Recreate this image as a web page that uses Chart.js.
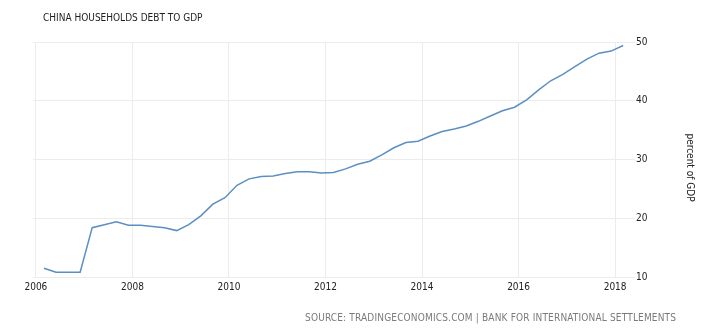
<!DOCTYPE html>
<html>
<head>
<meta charset="utf-8">
<title>China Households Debt to GDP</title>
<script src="https://cdn.jsdelivr.net/npm/chart.js@4.4.1/dist/chart.umd.min.js"></script>
<style>
  html, body { margin: 0; padding: 0; background: #fff; }
  #wrap { position: relative; width: 720px; height: 335px; }
</style>
</head>
<body>
<div id="wrap"><canvas id="debtChart" width="720" height="335"></canvas></div>
<script>
const chartTitle = "CHINA HOUSEHOLDS DEBT TO GDP";
const sourceText = "SOURCE: TRADINGECONOMICS.COM | BANK FOR INTERNATIONAL SETTLEMENTS";
const unitLabel = "percent of GDP";

// quarter end dates, YYYY-MM
const quarters = [
  "2006-03", "2006-06", "2006-09", "2006-12",
  "2007-03", "2007-06", "2007-09", "2007-12",
  "2008-03", "2008-06", "2008-09", "2008-12",
  "2009-03", "2009-06", "2009-09", "2009-12",
  "2010-03", "2010-06", "2010-09", "2010-12",
  "2011-03", "2011-06", "2011-09", "2011-12",
  "2012-03", "2012-06", "2012-09", "2012-12",
  "2013-03", "2013-06", "2013-09", "2013-12",
  "2014-03", "2014-06", "2014-09", "2014-12",
  "2015-03", "2015-06", "2015-09", "2015-12",
  "2016-03", "2016-06", "2016-09", "2016-12",
  "2017-03", "2017-06", "2017-09", "2017-12",
  "2018-03",
];

// household debt, % of GDP
const debtToGdp = [
  11.5, 10.8, 10.8, 10.8,
  18.4, 18.9, 19.4, 18.8,
  18.8, 18.6, 18.4, 17.9,
  18.9, 20.4, 22.4, 23.5,
  25.6, 26.7, 27.1, 27.2,
  27.6, 27.9, 27.9, 27.7,
  27.8, 28.4, 29.2, 29.7,
  30.8, 32.0, 32.9, 33.1,
  34.0, 34.75, 35.2, 35.7,
  36.5, 37.4, 38.3, 38.9,
  40.15, 41.85, 43.4, 44.5,
  45.8, 47.1, 48.1, 48.45,
  49.4,
];

const yearTicks = [2006, 2008, 2010, 2012, 2014, 2016, 2018];
const percentTicks = [10, 20, 30, 40, 50];

const FONT = "'DejaVu Sans Condensed', 'DejaVu Sans', sans-serif";
const GRID = "#ececec";

function toYear(q) {
  const [y, m] = q.split("-").map(Number);
  return y + (m - 1) / 12;
}

const points = quarters.map((q, i) => ({ x: toYear(q), y: debtToGdp[i] }));

// title, source line and the rotated unit label
const captions = {
  id: "captions",
  afterDraw(chart) {
    const c = chart.ctx;
    c.save();
    c.textBaseline = "alphabetic";
    c.textAlign = "left";
    c.fillStyle = "#1e1e1e";
    c.font = "10px " + FONT;
    c.fillText(chartTitle, 43, 21);

    // source line spans x 305..676, spread the letters to fill it
    c.fillStyle = "#7a7a7a";
    c.font = "10px " + FONT;
    const plain = c.measureText(sourceText).width;
    const spacing = Math.max(0, (371 - plain) / (sourceText.length - 1));
    c.letterSpacing = spacing.toFixed(2) + "px";
    c.fillText(sourceText, 305, 321);
    c.letterSpacing = "0px";

    c.fillStyle = "#222";
    c.font = "10px " + FONT;
    c.translate(690, 167.5);
    c.rotate(Math.PI / 2);
    c.textAlign = "center";
    c.textBaseline = "middle";
    c.fillText(unitLabel, 0, 0);
    c.restore();
  },
};

new Chart(document.getElementById("debtChart"), {
  type: "line",
  data: {
    datasets: [
      {
        label: unitLabel,
        data: points,
        borderColor: "#5b8fc3",
        borderWidth: 1.5,
        pointRadius: 0,
        tension: 0,
        fill: false,
      },
    ],
  },
  options: {
    responsive: false,
    animation: false,
    devicePixelRatio: 1,
    layout: { padding: { left: 33, top: 42, right: 23.5, bottom: 0 } },
    plugins: {
      legend: { display: false },
      tooltip: { enabled: false },
    },
    scales: {
      x: {
        type: "linear",
        min: 2005.94,
        max: 2018.35,
        afterBuildTicks: (scale) => {
          scale.ticks = yearTicks.map((v) => ({ value: v }));
        },
        afterFit: (scale) => {
          scale.height = 58;
        },
        ticks: {
          autoSkip: false,
          maxRotation: 0,
          padding: 4,
          color: "#222",
          font: { family: FONT, size: 10 },
          callback: (v) => String(v),
        },
        grid: { color: GRID, drawTicks: false },
        border: { display: false },
      },
      y: {
        position: "right",
        min: 10,
        max: 50,
        afterBuildTicks: (scale) => {
          scale.ticks = percentTicks.map((v) => ({ value: v }));
        },
        afterFit: (scale) => {
          scale.width = 64.5;
        },
        ticks: {
          padding: 1,
          color: "#222",
          font: { family: FONT, size: 10 },
        },
        grid: { color: GRID, tickLength: 3 },
        border: { display: false },
      },
    },
  },
  plugins: [captions],
});
</script>
</body>
</html>
